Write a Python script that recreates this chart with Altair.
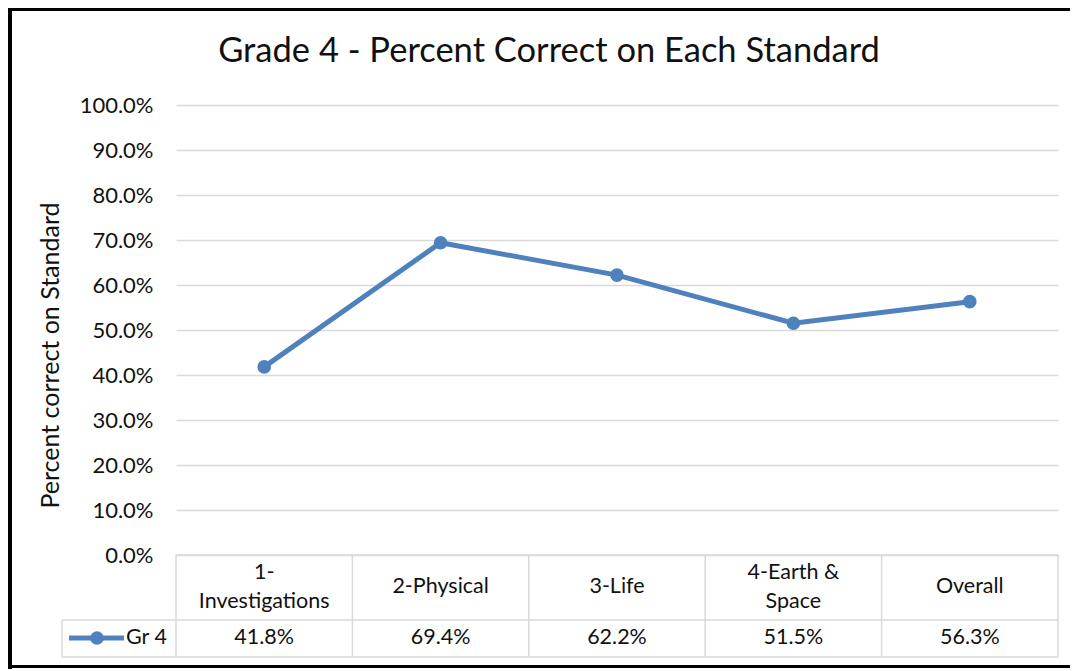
import altair as alt
import pandas as pd

# ---- data ----
chart_title = "Grade 4 - Percent Correct on Each Standard"
y_title = "Percent correct on Standard"
series_name = "Gr 4"
categories = ["1-\nInvestigations", "2-Physical", "3-Life", "4-Earth &\nSpace", "Overall"]
values = [0.418, 0.694, 0.622, 0.515, 0.563]
y_ticks = [0.0, 0.1, 0.2, 0.3, 0.4, 0.5, 0.6, 0.7, 0.8, 0.9, 1.0]

df = pd.DataFrame({
    "pos": [i + 0.5 for i in range(len(categories))],
    "category": categories,
    "nlines": [c.count("\n") + 1 for c in categories],
    "value": values,
})
bounds_df = pd.DataFrame({"b": list(range(len(categories) + 1))})
legend_df = pd.DataFrame({"series": [series_name]})

# ---- layout constants ----
W, H = 882, 450
FONT = "Lato"
BLUE = "#4F81BD"
GRID = "#D9D9D9"
TXT = "#111111"
TFS = 21.5  # table font size
LH = 29     # table line height

xs = alt.Scale(domain=[0, len(categories)], nice=False, zero=False)
ys = alt.Scale(domain=[0, 1], nice=False)

def X(field):
    return alt.X(field, scale=xs, axis=None)

line = alt.Chart(df).mark_line(color=BLUE, strokeWidth=5).encode(
    x=X("pos:Q"),
    y=alt.Y("value:Q", scale=ys, title=y_title,
            axis=alt.Axis(values=y_ticks, format=".1%", domain=False, ticks=False,
                          labelPadding=23, labelFont=FONT, labelFontSize=22,
                          labelColor=TXT, grid=True, gridColor=GRID, gridWidth=1.5,
                          titleFont=FONT, titleFontSize=25, titleFontWeight="normal",
                          titleColor=TXT, titleAngle=270, titleBaseline="middle",
                          titleAlign="center", titleX=-126, titleY=250)),
)
points = alt.Chart(df).mark_circle(color=BLUE, size=185, opacity=1).encode(
    x=X("pos:Q"), y=alt.Y("value:Q", scale=ys)
)

# data table
col_lines = alt.Chart(bounds_df).mark_rule(color=GRID, strokeWidth=1.5).encode(
    x=X("b:Q"), y=alt.value(H), y2=alt.value(H + 102)
)
hdr_top = alt.Chart(legend_df).mark_rule(color=GRID, strokeWidth=1.5).encode(
    x=alt.value(0), x2=alt.value(W), y=alt.value(H)
)
row_mid = alt.Chart(legend_df).mark_rule(color=GRID, strokeWidth=1.5).encode(
    x=alt.value(-114), x2=alt.value(W), y=alt.value(H + 65)
)
row_bot = alt.Chart(legend_df).mark_rule(color=GRID, strokeWidth=1.5).encode(
    x=alt.value(-114), x2=alt.value(W), y=alt.value(H + 102)
)
leg_left = alt.Chart(legend_df).mark_rule(color=GRID, strokeWidth=1.5).encode(
    x=alt.value(-114), y=alt.value(H + 65), y2=alt.value(H + 102)
)
hdr_text1 = alt.Chart(df).transform_filter("datum.nlines == 1").mark_text(
    font=FONT, fontSize=TFS, color=TXT, baseline="middle").encode(
    x=X("pos:Q"), y=alt.value(H + 32), text="category:N"
)
hdr_text2 = alt.Chart(df).transform_filter("datum.nlines == 2").mark_text(
    font=FONT, fontSize=TFS, color=TXT, baseline="middle",
    lineBreak="\n", lineHeight=LH).encode(
    x=X("pos:Q"), y=alt.value(H + 32 - LH / 2), text="category:N"
)
val_text = alt.Chart(df).mark_text(font=FONT, fontSize=TFS, color=TXT, baseline="middle").encode(
    x=X("pos:Q"), y=alt.value(H + 83), text=alt.Text("value:Q", format=".1%")
)
leg_line = alt.Chart(legend_df).mark_rule(color=BLUE, strokeWidth=5).encode(
    x=alt.value(-107), x2=alt.value(-52), y=alt.value(H + 83)
)
leg_dot = alt.Chart(legend_df).mark_circle(color=BLUE, size=185, opacity=1).encode(
    x=alt.value(-79), y=alt.value(H + 83)
)
leg_text = alt.Chart(legend_df).mark_text(font=FONT, fontSize=TFS, color=TXT, align="left",
                                          baseline="middle").encode(
    x=alt.value(-50), y=alt.value(H + 83), text="series:N"
)

# chart title
title_mark = alt.Chart(legend_df).mark_text(font=FONT, fontSize=34.5, color=TXT, align="center",
                                            baseline="alphabetic", text=chart_title).encode(
    x=alt.value(373), y=alt.value(-43)
)

# chart-area border (left, top, bottom)
b_left = alt.Chart(legend_df).mark_rule(color="black", strokeWidth=4).encode(
    x=alt.value(-166), y=alt.value(-97), y2=alt.value(564)
)
b_top = alt.Chart(legend_df).mark_rule(color="black", strokeWidth=3).encode(
    x=alt.value(-168), x2=alt.value(W + 12), y=alt.value(-95.5)
)
b_bot = alt.Chart(legend_df).mark_rule(color="black", strokeWidth=3).encode(
    x=alt.value(-168), x2=alt.value(W + 12), y=alt.value(561.5)
)

chart = alt.layer(
    col_lines, hdr_top, row_mid, row_bot, leg_left,
    line, points, hdr_text1, hdr_text2, val_text, leg_line, leg_dot, leg_text,
    title_mark, b_left, b_top, b_bot,
).properties(
    width=W, height=H,
    background="white",
    autosize=alt.AutoSizeParams(type="none"),
    padding={"left": 168, "top": 97, "right": 12, "bottom": 114},
).configure_view(strokeWidth=0)

chart.save("out.html", embed_options={"renderer": "svg", "actions": False})
